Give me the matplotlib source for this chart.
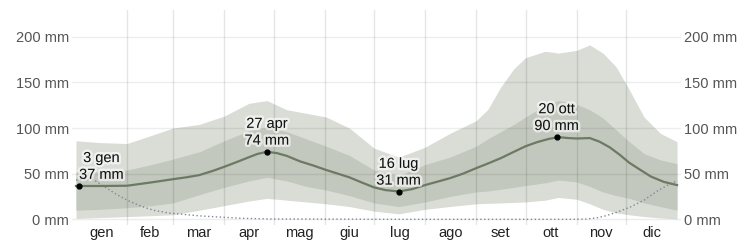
import matplotlib
matplotlib.use("Agg")
import matplotlib.pyplot as plt
import matplotlib.patheffects as pe

plt.rcParams['font.family'] = ['Liberation Sans', 'DejaVu Sans']

# ---- data ----
days = [0, 15, 31, 46, 59, 75, 90, 105, 116, 128, 140, 152, 166, 181, 196, 212,
        227, 243, 250, 258, 266, 273, 285, 293, 304, 312, 320, 328, 336, 345, 355, 365]
p75 = [52, 52, 54, 60, 66, 74, 86, 97, 101, 96, 88, 80, 70, 54, 48, 60,
       68, 80, 88, 96, 104, 112, 125, 130, 126, 120, 111, 98, 85, 72, 65, 61]
p90 = [86, 84, 83, 92, 100, 104, 113, 127, 130, 120, 116, 112, 100, 78, 68, 79,
       94, 108, 120, 145, 165, 177, 184, 182, 185, 191, 182, 167, 142, 112, 94, 85]
p25 = [10, 11, 12.7, 15, 18, 27, 35, 42, 46, 42, 36, 32, 26, 18, 14, 19,
       25, 30, 31, 33, 35, 37, 40, 43, 41, 36, 30, 26, 23, 18, 14, 10]
p10 = [1, 2, 3, 4, 5, 10, 15, 20, 23, 21, 19, 17, 14, 9, 6, 11,
       14, 17, 17.5, 18, 18.5, 19, 21, 24, 22, 17, 11, 7, 5, 3, 1.5, 0.5]

med_days = [0, 15, 31, 46, 59, 67, 75, 83, 90, 98, 105, 110, 116, 122, 128, 136,
            144, 152, 159, 166, 174, 181, 188, 196, 204, 212, 220, 227, 235, 243,
            250, 258, 266, 273, 280, 287, 293, 299, 304, 312, 318, 324, 330, 336,
            342, 349, 357, 365]
p50 = [36.5, 36.5, 36.8, 40.5, 44, 46, 48.5, 53, 57.5, 63, 68, 71.5, 74, 72.5, 69.5, 63.5,
       59, 54, 50, 46, 40, 35, 32, 30.5, 33, 37.5, 41.5, 45, 50, 56,
       61, 67, 74, 80, 84.5, 88, 90, 89, 88.5, 89, 85, 79, 71, 62,
       55, 47, 41, 37.5]

snow_days = [0, 6, 11, 17, 24, 31, 40, 47, 56, 63, 75, 87, 100, 118, 200, 300,
             310, 316, 322, 328, 337, 345, 353, 360, 365]
snow = [43, 43.5, 43, 36, 28, 21, 14, 10, 7, 5.8, 3.8, 2.5, 1.2, 0.4, 0, 0,
        0.3, 1.5, 4, 7.5, 13.8, 21, 31, 38, 42]

months = ['gen', 'feb', 'mar', 'apr', 'mag', 'giu', 'lug', 'ago', 'set', 'ott', 'nov', 'dic']
month_mid = [15.5, 45, 74.5, 105, 135.5, 166, 196.5, 227.5, 258, 288.5, 319, 349.5]
month_edges = [31, 59, 90, 120, 151, 181, 212, 243, 273, 304, 334]
yticks = [0, 50, 100, 150, 200]

ann_days = [2, 116, 196, 292]
ann_vals = [36.5, 74, 30.2, 90]
ann_text = ['3 gen\n37 mm', '27 apr\n74 mm', '16 lug\n31 mm', '20 ott\n90 mm']
ann_dx = [16, 0, 0, 0]

# ---- figure ----
fig = plt.figure(figsize=(7.53, 2.42), dpi=100)
ax = fig.add_axes([72 / 753, 17 / 242, 609 / 753, 215 / 242])

ax.fill_between(days, p10, p90, color='#d9ddd6', lw=0, zorder=1)
ax.fill_between(days, p25, p75, color='#c2c8be', lw=0, zorder=2)

for e in month_edges:
    ax.axvline(e, color='black', alpha=0.10, lw=1, zorder=3)
for t in yticks:
    ax.axhline(t, color='black', alpha=0.07, lw=1, zorder=3)

ax.plot(snow_days, snow, color='#80879a', lw=1, ls=(0, (1, 1.8)), zorder=4)
ax.plot(med_days, p50, color='#6c7a64', lw=1.6, zorder=5)

for d, v, t, dx in zip(ann_days, ann_vals, ann_text, ann_dx):
    ax.plot([d], [v], 'o', color='black', ms=3.5, zorder=6)
    ax.annotate(t, xy=(d, v), xytext=(dx, 3), textcoords='offset points',
                ha='center', va='bottom', multialignment='center',
                fontsize=10.5, color='#111111', linespacing=1.25, zorder=7,
                path_effects=[pe.withStroke(linewidth=3.5, foreground='white', alpha=0.6)])

ax.set_xlim(-2.43, 367.43)
ax.set_ylim(-6.2, 229.2)

ax.set_xticks(month_mid)
ax.set_xticklabels(months, fontsize=10.5, color='#222222')
ax.tick_params(axis='x', length=0, pad=1)

ax.set_yticks(yticks)
ax.set_yticklabels([f'{t} mm' for t in yticks], fontsize=10.5, color='#555555')
ax.tick_params(axis='y', length=0, pad=2, labelleft=True, labelright=True)

for s in ax.spines.values():
    s.set_visible(False)

fig.savefig('out.png', dpi=100)
